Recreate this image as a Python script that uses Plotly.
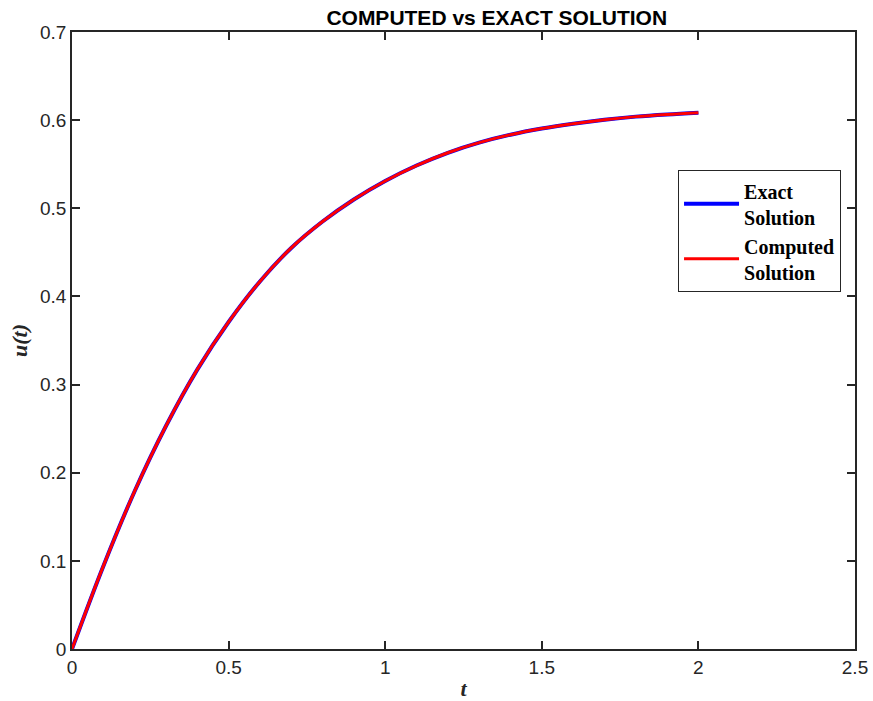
import plotly.graph_objects as go

t_vals = [0.0, 0.1, 0.2, 0.3, 0.4, 0.5, 0.6, 0.7, 0.8, 0.9, 1.0,
          1.1, 1.2, 1.3, 1.4, 1.5, 1.6, 1.7, 1.8, 1.9, 2.0]
u_exact = [0.000, 0.094, 0.179, 0.253, 0.317, 0.371, 0.417, 0.455, 0.485, 0.510, 0.531,
           0.5485, 0.563, 0.5745, 0.5835, 0.5905, 0.596, 0.6005, 0.604, 0.6065, 0.6085]
u_computed = [0.000, 0.094, 0.179, 0.253, 0.317, 0.371, 0.417, 0.455, 0.485, 0.510, 0.531,
              0.5485, 0.563, 0.5745, 0.5835, 0.5905, 0.596, 0.6005, 0.604, 0.6065, 0.6085]

x_ticks = [0, 0.5, 1, 1.5, 2, 2.5]
y_ticks = [0, 0.1, 0.2, 0.3, 0.4, 0.5, 0.6, 0.7]

fig = go.Figure()
fig.add_trace(go.Scatter(x=t_vals, y=u_exact, mode="lines", name="<b>Exact<br>Solution</b>",
                         line=dict(color="#0000ff", width=4, shape="spline", smoothing=1.0)))
fig.add_trace(go.Scatter(x=t_vals, y=u_computed, mode="lines", name="<b>Computed<br>Solution</b>",
                         line=dict(color="#ff0000", width=3, shape="spline", smoothing=1.0)))

axis_common = dict(showline=True, linecolor="#262626", linewidth=1.5, mirror="ticks",
                   ticks="inside", ticklen=8, tickwidth=1.5, tickcolor="#262626",
                   showgrid=False, zeroline=False, automargin=False,
                   tickfont=dict(family="Liberation Sans, Arial", size=19, color="#262626"))

fig.update_layout(
    width=873, height=701,
    margin=dict(l=72, r=18, t=32, b=52),
    paper_bgcolor="white", plot_bgcolor="white",
    title=dict(text="<b>COMPUTED vs EXACT SOLUTION</b>", x=0.569, xanchor="center",
               xref="container", y=0.975, yanchor="middle",
               font=dict(family="Liberation Sans, Arial", size=21, color="black")),
    xaxis=dict(range=[0, 2.5], tickvals=x_ticks, ticktext=[str(v) for v in x_ticks],
               title=dict(text="<b><i>t</i></b>", standoff=10,
                          font=dict(family="Liberation Serif, Times New Roman", size=22, color="#262626")),
               **axis_common),
    yaxis=dict(range=[0, 0.7], tickvals=y_ticks, ticktext=[f"{v:g}" for v in y_ticks],
               title=dict(text="<b><i>u(t)</i></b>", standoff=6,
                          font=dict(family="Liberation Serif, Times New Roman", size=22, color="#262626")),
               **axis_common),
    legend=dict(x=0.774, y=0.776, xanchor="left", yanchor="top",
                bgcolor="white", bordercolor="#262626", borderwidth=1,
                itemwidth=55,
                font=dict(family="Liberation Serif, Times New Roman", size=20, color="black"),
                tracegroupgap=0),
    showlegend=True,
)

fig.write_html("out.html")
